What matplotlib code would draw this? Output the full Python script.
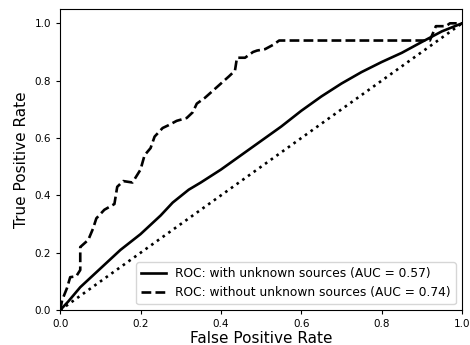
import numpy as np
import matplotlib
matplotlib.use("Agg")
import matplotlib.pyplot as plt

# ROC with unknown sources (AUC = 0.57)
fpr_with = [0.0, 0.02, 0.05, 0.1, 0.15, 0.2, 0.25, 0.28, 0.32, 0.35, 0.4, 0.45, 0.5,
            0.55, 0.6, 0.65, 0.7, 0.75, 0.8, 0.85, 0.9, 0.95, 1.0]
tpr_with = [0.0, 0.03, 0.08, 0.145, 0.21, 0.265, 0.33, 0.375, 0.42, 0.445, 0.49, 0.54, 0.59,
            0.64, 0.695, 0.745, 0.79, 0.83, 0.865, 0.897, 0.935, 0.972, 1.0]

# ROC without unknown sources (AUC = 0.74)
fpr_without = [0.0, 0.005, 0.017, 0.025, 0.04, 0.05, 0.05, 0.07, 0.082, 0.09, 0.11,
               0.135, 0.142, 0.157, 0.18, 0.2, 0.21, 0.225, 0.235, 0.255, 0.27,
               0.29, 0.315, 0.33, 0.34, 0.36, 0.38, 0.4, 0.42, 0.435, 0.44, 0.46,
               0.48, 0.49, 0.51, 0.53, 0.545, 0.92, 0.935, 0.96, 0.97, 1.0]
tpr_without = [0.0, 0.035, 0.077, 0.115, 0.118, 0.14, 0.22, 0.245, 0.285, 0.32, 0.35,
               0.37, 0.43, 0.45, 0.445, 0.49, 0.54, 0.565, 0.605, 0.635, 0.645,
               0.66, 0.67, 0.69, 0.72, 0.74, 0.765, 0.79, 0.815, 0.835, 0.88, 0.88,
               0.9, 0.905, 0.91, 0.925, 0.94, 0.94, 0.99, 0.99, 1.0, 1.0]

fig = plt.figure(figsize=(4.7, 3.45), dpi=100)
ax = fig.add_axes([0.128, 0.101, 0.855, 0.873])

ax.plot(fpr_with, tpr_with, color="black", lw=1.9, ls="-",
        label="ROC: with unknown sources (AUC = 0.57)")
ax.plot(fpr_without, tpr_without, color="black", lw=1.9, ls="--",
        label="ROC: without unknown sources (AUC = 0.74)")
ax.plot([0, 1], [0, 1], color="black", lw=1.9, ls=":")

ax.set_xlim(0, 1)
ax.set_ylim(0, 1.05)
ax.set_xlabel("False Positive Rate", fontsize=11, labelpad=1)
ax.set_ylabel("True Positive Rate", fontsize=11, labelpad=4)
ax.tick_params(labelsize=7.5, length=3)
ax.legend(loc="lower right", fontsize=8.8)

fig.savefig("out.png", dpi=100)
